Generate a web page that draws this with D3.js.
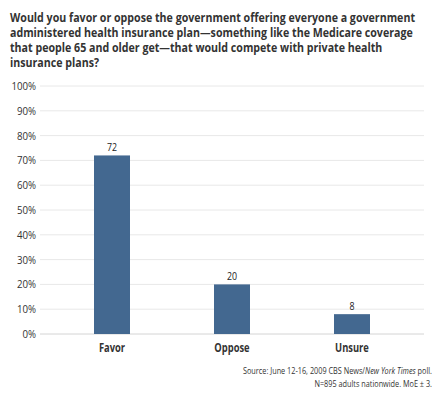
<!DOCTYPE html>
<html>
<head>
<meta charset="utf-8">
<script src="https://cdn.jsdelivr.net/npm/d3@7"></script>
<style>
  body { margin: 0; background: #fff; }
  text { font-family: "Open Sans", "Noto Sans", sans-serif; }
</style>
</head>
<body>
<div id="chart"></div>
<script>
const width = 444;
const height = 394;

const titleLines = [
    "Would you favor or oppose the government offering everyone a government",
    "administered health insurance plan\u2014something like the Medicare coverage",
    "that people 65 and older get\u2014that would compete with private health",
    "insurance plans?"
];
const categories = ["Favor", "Oppose", "Unsure"];
const values = [72, 20, 8];
const yTicks = [0, 10, 20, 30, 40, 50, 60, 70, 80, 90, 100];

const x = d3.scaleBand()
    .domain(categories)
    .range([52, 412])
    .paddingInner(0.7)
    .paddingOuter(0.35);

const y = d3.scaleLinear()
    .domain([0, 100])
    .range([334, 86]);

const svg = d3.select("#chart")
    .append("svg")
    .attr("width", width)
    .attr("height", height);

// squeeze text horizontally, the original uses a condensed face
const condense = (sel, k) => sel.each(function () {
    const w = this.getComputedTextLength();
    d3.select(this)
        .attr("textLength", w * k)
        .attr("lengthAdjust", "spacingAndGlyphs");
});

// title
const title = svg.append("g")
    .selectAll("text")
    .data(titleLines)
    .join("text")
    .attr("x", 10)
    .attr("y", (d, i) => 21.5 + i * 15)
    .attr("font-size", 13)
    .attr("font-weight", "bold")
    .attr("fill", "#333")
    .text(d => d);
const titleK = 405 / title.node().getComputedTextLength();
condense(title, titleK);

// gridlines + tick labels
const grid = svg.append("g");
grid.selectAll("line")
    .data(yTicks)
    .join("line")
    .attr("x1", 40)
    .attr("x2", 424)
    .attr("y1", d => y(d))
    .attr("y2", d => y(d))
    .attr("stroke", d => d === 0 ? "#d4d4d4" : "#e8e8e8")
    .attr("stroke-width", 1);

grid.selectAll("text")
    .data(yTicks)
    .join("text")
    .attr("x", 36)
    .attr("y", d => y(d) + 4)
    .attr("text-anchor", "end")
    .attr("font-size", 11)
    .attr("fill", "#333")
    .text(d => d + "%")
    .call(condense, 0.88);

// bars
svg.append("g")
    .selectAll("rect")
    .data(values)
    .join("rect")
    .attr("x", (d, i) => x(categories[i]))
    .attr("y", d => y(d))
    .attr("width", x.bandwidth())
    .attr("height", d => y(0) - y(d))
    .attr("fill", "#436890");

// value labels
svg.append("g")
    .selectAll("text")
    .data(values)
    .join("text")
    .attr("x", (d, i) => x(categories[i]) + x.bandwidth() / 2)
    .attr("y", d => y(d) - 4)
    .attr("text-anchor", "middle")
    .attr("font-size", 11)
    .attr("fill", "#222")
    .text(d => d)
    .call(condense, 0.8);

// category labels
svg.append("g")
    .selectAll("text")
    .data(categories)
    .join("text")
    .attr("x", d => x(d) + x.bandwidth() / 2)
    .attr("y", 352)
    .attr("text-anchor", "middle")
    .attr("font-size", 12)
    .attr("font-weight", "bold")
    .attr("fill", "#333")
    .text(d => d)
    .call(condense, 0.78);

// source note
const noteK = 0.81;
const note = svg.append("text")
    .attr("x", 432)
    .attr("y", 374)
    .attr("text-anchor", "end")
    .attr("font-size", 9)
    .attr("fill", "#333");
note.append("tspan").text("Source: June 12-16, 2009 CBS News/");
note.append("tspan").attr("font-style", "italic").text("New York Times");
note.append("tspan").text(" poll.");
note.selectAll("tspan").call(condense, noteK);

svg.append("text")
    .attr("x", 432)
    .attr("y", 387)
    .attr("text-anchor", "end")
    .attr("font-size", 9)
    .attr("fill", "#333")
    .text("N=895 adults nationwide. MoE \u00b1 3.")
    .call(condense, noteK);
</script>
</body>
</html>
